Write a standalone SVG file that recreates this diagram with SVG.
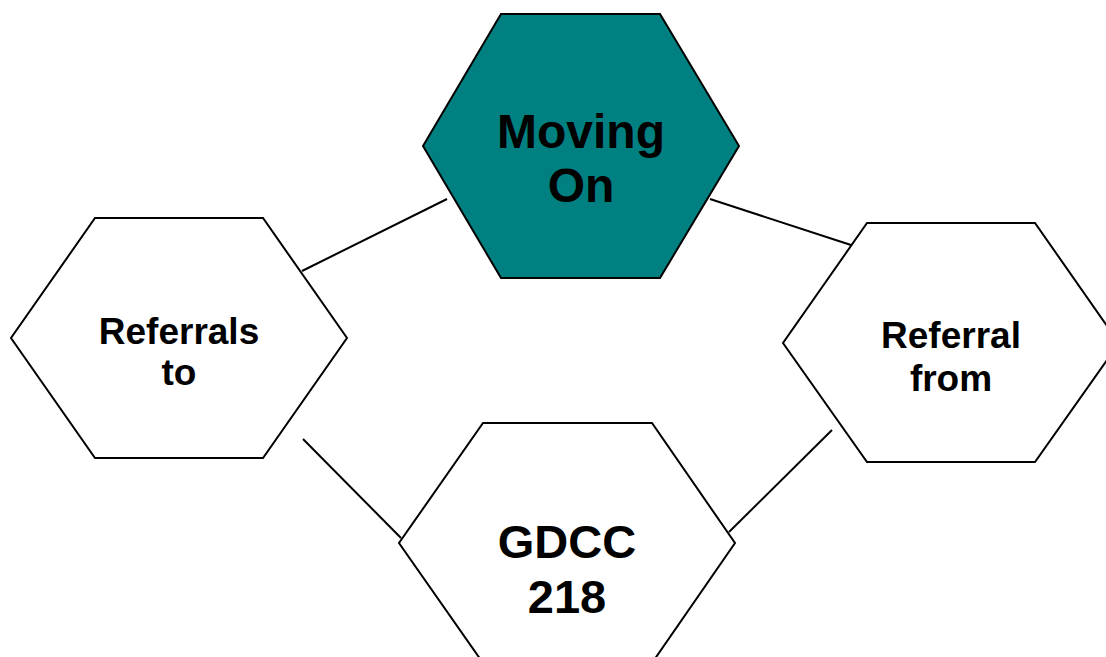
<svg xmlns="http://www.w3.org/2000/svg" width="1106" height="657" viewBox="0 0 1106 657">
<style>
.hex{fill:#ffffff;stroke:#000000;stroke-width:2;stroke-linejoin:miter}
.teal{fill:#008080}
.con{stroke:#000000;stroke-width:2;fill:none}
text{font-family:"Liberation Sans",Arial,sans-serif;font-weight:bold;fill:#000000;text-anchor:middle}
.big{font-size:47px}
.top{font-size:48px}
.mid{font-size:37px}
</style>
<rect width="1106" height="657" fill="#ffffff"/>
<g id="connectors">
<line class="con" x1="447" y1="199" x2="302" y2="271"/>
<line class="con" x1="710" y1="199" x2="851" y2="245"/>
<line class="con" x1="303" y1="439" x2="401" y2="538"/>
<line class="con" x1="832" y1="430" x2="729" y2="532"/>
</g>
<g id="moving-on">
<polygon class="hex teal" points="501,14 660,14 739,146 660,278 501,278 423,146"/>
<text class="top" x="581" y="148">Moving</text>
<text class="top" x="581" y="202">On</text>
</g>
<g id="referrals-to">
<polygon class="hex" points="95,218 263,218 347,338 263,458 95,458 11,338"/>
<text class="mid" x="179" y="344">Referrals</text>
<text class="mid" x="179" y="385">to</text>
</g>
<g id="referral-from">
<polygon class="hex" points="867,223 1035,223 1119,343 1035,462 867,462 783,343"/>
<text class="mid" x="951" y="348">Referral</text>
<text class="mid" x="951" y="391">from</text>
</g>
<g id="gdcc-218">
<polygon class="hex" points="483,423 652,423 735,543 652,663 483,663 399,543"/>
<text class="big" x="567" y="558">GDCC</text>
<text class="big" x="567" y="613">218</text>
</g>
</svg>
